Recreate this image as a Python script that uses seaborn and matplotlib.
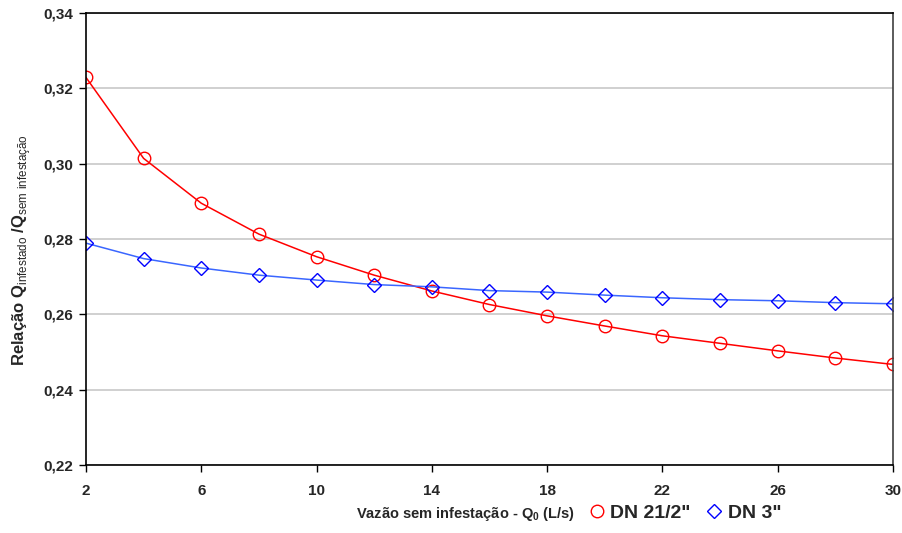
import numpy as np
import pandas as pd
import matplotlib
matplotlib.use("Agg")
import matplotlib.pyplot as plt
from matplotlib.ticker import FuncFormatter
from matplotlib.lines import Line2D
import seaborn as sns

# data
vazao = [2, 4, 6, 8, 10, 12, 14, 16, 18, 20, 22, 24, 26, 28, 30]
dn_212 = [0.3229, 0.3014, 0.2895, 0.2813, 0.2753, 0.2704, 0.2662, 0.2626,
          0.2596, 0.2569, 0.2543, 0.2523, 0.2503, 0.2484, 0.2467]
dn_3 = [0.2789, 0.2748, 0.2723, 0.2704, 0.2691, 0.2679, 0.2673, 0.2663,
        0.2659, 0.2651, 0.2644, 0.2639, 0.2636, 0.2631, 0.2628]
series_names = ['DN 21/2"', 'DN 3"']
x_ticks = [2, 6, 10, 14, 18, 22, 26, 30]
y_ticks = [0.22, 0.24, 0.26, 0.28, 0.30, 0.32, 0.34]

sns.set_style("white")
plt.rcParams['font.family'] = ['Liberation Sans', 'DejaVu Sans']
plt.rcParams['mathtext.fontset'] = 'custom'
plt.rcParams['mathtext.rm'] = 'Liberation Sans'
plt.rcParams['mathtext.bf'] = 'Liberation Sans:bold'

df = pd.DataFrame({"vazao": vazao, "dn_212": dn_212, "dn_3": dn_3})

fig = plt.figure(figsize=(9.03, 5.33), dpi=100)
ax = fig.add_axes([0.0952, 0.1276, 0.8937, 0.8480])

sns.lineplot(data=df, x="vazao", y="dn_212", ax=ax, color="#ff0000", lw=1.1,
             marker="o", markersize=9, markerfacecolor="none",
             markeredgecolor="#ff0000", markeredgewidth=1.0)
sns.lineplot(data=df, x="vazao", y="dn_3", ax=ax, color="#3a66ff", lw=1.1,
             marker="D", markersize=7, markerfacecolor="none",
             markeredgecolor="#0000ff", markeredgewidth=1.0)

ax.set_xlim(2, 30)
ax.set_ylim(0.22, 0.34)
ax.set_xticks(x_ticks)
ax.set_yticks(y_ticks)
ax.yaxis.set_major_formatter(FuncFormatter(lambda v, p: f"{v:.2f}".replace(".", ",")))
ax.grid(axis="y", color="#c8c8c8", lw=1.2)
ax.set_axisbelow(True)
for s in ax.spines.values():
    s.set_color("black")
    s.set_linewidth(1.2)
ax.spines["right"].set_color("#404040")
ax.tick_params(axis="both", direction="out", length=5, width=1, color="black",
               labelsize=11, bottom=True, left=True)
ax.tick_params(axis="x", pad=9)
ax.tick_params(axis="y", pad=4)
for lab in ax.get_xticklabels() + ax.get_yticklabels():
    lab.set_fontweight("bold")

ax.set_xlabel("")
ax.set_ylabel(r"Relação Q$_{\mathrm{infestado}}$ /Q$_{\mathrm{sem\ infestação}}$",
              fontsize=12, fontweight="bold")
ax.yaxis.set_label_coords(-0.0655, 0.476)

fig.text(0.515, 1 - 514 / 533, r"Vazão sem infestação - Q$_{\mathbf{0}}$ (L/s)",
         fontsize=10.5, fontweight="bold", ha="center", va="center")

handles = [
    Line2D([], [], ls="none", marker="o", markersize=9, markerfacecolor="none",
           markeredgecolor="#ff0000", markeredgewidth=1.0),
    Line2D([], [], ls="none", marker="D", markersize=7, markerfacecolor="none",
           markeredgecolor="#0000ff", markeredgewidth=1.0),
]
leg = fig.legend(handles, series_names, loc="center left", ncol=2,
                 bbox_to_anchor=(587 / 903, 1 - 513 / 533), frameon=False,
                 prop={"weight": "bold", "size": 14}, handletextpad=0.2,
                 columnspacing=0.7, handlelength=1.0, borderpad=0,
                 borderaxespad=0)

fig.savefig("out.png", dpi=100)
